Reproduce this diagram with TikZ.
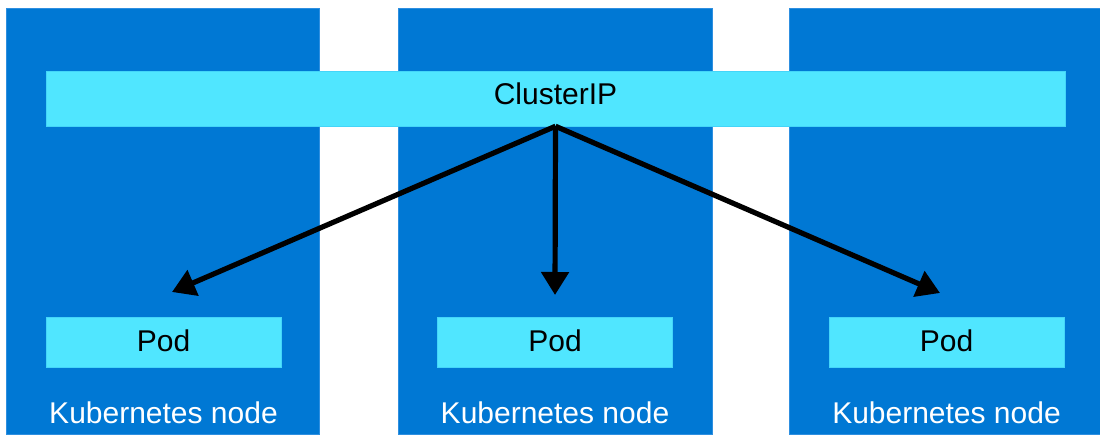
\documentclass[tikz,border=0pt]{standalone}
\usepackage{fontspec}
\setmainfont{Liberation Sans}
\usepackage{tikz}
\usetikzlibrary{arrows.meta,positioning}
\definecolor{k8sBlue}{HTML}{0078D4}
\definecolor{k8sCyan}{HTML}{50E6FF}
\definecolor{k8sEdge}{HTML}{2E8FE0}
\tikzset{
  k8s diagram/.style={font=\fontsize{30}{36}\selectfont, x=1pt, y=1pt},
  k8s column/.style={draw=k8sEdge, fill=k8sBlue, line width=0.5pt,
    anchor=south west, inner sep=0pt, minimum height=425pt},
  k8s box/.style={draw=k8sCyan!85!k8sBlue, fill=k8sCyan, line width=0.5pt,
    inner sep=0pt, text=black, text height=21pt},
  k8s pod/.style={k8s box, minimum width=235pt, minimum height=50pt,
    text depth=3pt},
  k8s arrow/.style={-{Triangle[length=23pt,width=27pt]}, draw=black,
    line width=5.2pt},
  k8s label/.style={text=white, anchor=base}
}
\begin{document}
\begin{tikzpicture}[k8s diagram]
\useasboundingbox (0,0) rectangle (1100,434);
% the three kubernetes nodes
\node[k8s column, minimum width=313pt] (col1) at (6,0) {};
\node[k8s column, minimum width=314pt] (col2) at (398,0) {};
\node[k8s column, minimum width=311pt] (col3) at (789,0) {};
\node[k8s box, minimum width=1019pt, minimum height=55pt, text depth=8pt]
  (cip) at (555.5,335.5) {ClusterIP};
\node[k8s pod] (pod1) at (163.5,92) {Pod};
\node[k8s pod] (pod2) at (555,92) {Pod};
\node[k8s pod] (pod3) at (946.5,92) {Pod};
\coordinate (base) at (0,11);
\node[k8s label] (lbl1) at (pod1 |- base) {Kubernetes node};
\node[k8s label] (lbl2) at (pod2 |- base) {Kubernetes node};
\node[k8s label] (lbl3) at (pod3 |- base) {Kubernetes node};
% arrow tips stop above the pods
\coordinate (tip1) at (172,142);
\coordinate (tip2) at (555,139);
\coordinate (tip3) at (940,141);
\draw[k8s arrow] (cip.south) -- (tip1);
\draw[k8s arrow] (cip.south) -- (tip2);
\draw[k8s arrow] (cip.south) -- (tip3);
\end{tikzpicture}
\end{document}
